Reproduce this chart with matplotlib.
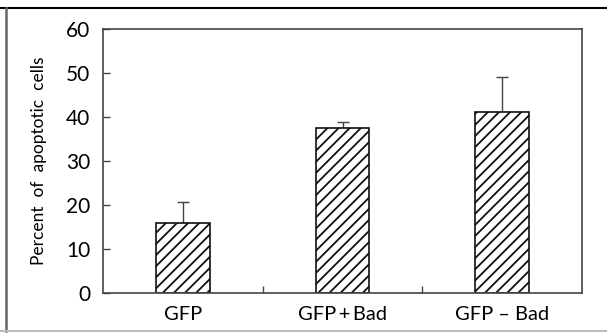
import matplotlib
matplotlib.use("Agg")
import matplotlib.pyplot as plt
from matplotlib.lines import Line2D

categories = ["GFP", "GFP\u2009+\u2009Bad", "GFP \u2013 Bad"]
values = [16.0, 37.5, 41.2]
errors = [4.7, 1.3, 7.8]
yticks = [0, 10, 20, 30, 40, 50, 60]

plt.rcParams['font.family'] = ['Lato', 'DejaVu Sans']
plt.rcParams['hatch.linewidth'] = 1.3

fig = plt.figure(figsize=(6.07, 3.34), dpi=100)
ax = fig.add_axes([103/607, 1-293/334, (582-103)/607, (293-29)/334])

x = list(range(len(categories)))
ax.bar(x, values, width=0.335, color='white', edgecolor='#111111', linewidth=1.2, hatch='///', zorder=2)
ax.errorbar(x, values, yerr=[[0]*len(errors), errors], fmt='none', ecolor='#444444',
            elinewidth=1.0, capsize=4, capthick=1.0, zorder=1)

ax.set_xlim(-0.5, 2.5)
ax.set_ylim(0, 60)
ax.set_yticks(yticks)
ax.set_xticks(x)
ax.set_xticklabels(categories)
ax.set_xticks([0.5, 1.5], minor=True)
ax.tick_params(axis='y', direction='in', length=5, width=1, color='#444444', labelsize=15, pad=9)
ax.tick_params(axis='x', which='major', length=0, labelsize=14.5, pad=9)
ax.tick_params(axis='x', which='minor', direction='in', length=5, width=1, color='#444444')
ax.set_ylabel("Percent  of  apoptotic  cells", fontsize=12.5, labelpad=14)
for s in ax.spines.values():
    s.set_color('#444444')
    s.set_linewidth(1.2)

fig.add_artist(Line2D([0, 1], [1-8/334, 1-8/334], color='black', lw=1.5, transform=fig.transFigure))
fig.add_artist(Line2D([6/607, 6/607], [3/334, 1-8/334], color='#666666', lw=1.8, transform=fig.transFigure))
fig.add_artist(Line2D([0, 1], [3/334, 3/334], color='#bbbbbb', lw=1.5, transform=fig.transFigure))

fig.savefig("out.png", dpi=100)
